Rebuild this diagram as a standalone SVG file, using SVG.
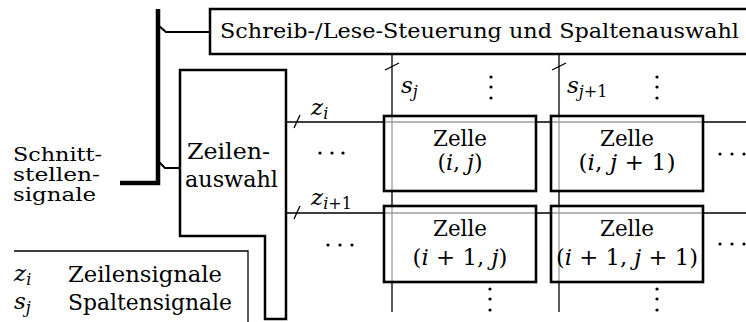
<svg xmlns="http://www.w3.org/2000/svg" width="746" height="322" viewBox="0 0 746 322" font-family="DejaVu Serif, Liberation Serif, serif">
<style>
text{fill:#000}
.t{font-size:23px}
.c{font-size:22px;text-anchor:middle}
.m{font-style:italic}
.sub{font-size:16px}
.thin{stroke:#000;stroke-width:1.3;fill:none}
.box{stroke:#000;stroke-width:2.5;fill:#fff}
.cell{stroke:#000;stroke-width:2.6;fill:#fff;fill-opacity:0.62}
.bus{stroke:#000;stroke-width:4.5;fill:none}
.br{stroke:#000;stroke-width:2.2;fill:none}
.sm{font-size:19px}
.hd{font-size:20.5px}
</style>
<g id="connectors">
  <path class="bus" d="M158,9 V183 H120"/>
  <path class="br" d="M159,26 L166,32 H210"/>
  <path class="br" d="M159,162 L165,168 H180"/>
  <path class="thin" d="M286,122 H746 M286,213 H746 M392,54 V312 M559,54 V312"/>
  <path class="thin" d="M294,128 L300,115 M294,219 L300,206 M385,70 L399,63 M552,70 L566,63"/>
</g>
<g id="steuerung">
  <rect class="box" x="210" y="9" width="545" height="45"/>
  <text class="hd" x="220" y="38" textLength="519" lengthAdjust="spacingAndGlyphs">Schreib-/Lese-Steuerung und Spaltenauswahl</text>
</g>
<g id="zeilenauswahl">
  <path class="box" d="M180,70 H286 V319 H265 V236 H180 Z"/>
  <text class="t" x="187" y="159" textLength="83" lengthAdjust="spacingAndGlyphs">Zeilen-</text>
  <text class="t" x="185" y="187" textLength="93" lengthAdjust="spacingAndGlyphs">auswahl</text>
</g>
<g id="schnittstelle">
  <text class="t sm" x="13" y="161" textLength="89" lengthAdjust="spacingAndGlyphs">Schnitt-</text>
  <text class="t sm" x="13" y="181" textLength="87" lengthAdjust="spacingAndGlyphs">stellen-</text>
  <text class="t sm" x="13" y="201" textLength="83" lengthAdjust="spacingAndGlyphs">signale</text>
</g>
<g id="labels">
  <text class="t m" x="311" y="115">z<tspan class="sub" dy="4">i</tspan></text>
  <text class="t m" x="311" y="205">z<tspan class="sub" dy="4">i</tspan><tspan class="sub" font-style="normal">+1</tspan></text>
  <text class="t m" x="401" y="93">s<tspan class="sub" dy="4">j</tspan></text>
  <text class="t m" x="567" y="93">s<tspan class="sub" dy="4">j</tspan><tspan class="sub" font-style="normal">+1</tspan></text>
</g>
<g id="dots" fill="#000">
  <circle cx="491" cy="77" r="1.6"/><circle cx="491" cy="87" r="1.6"/><circle cx="491" cy="98" r="1.6"/>
  <circle cx="657" cy="77" r="1.6"/><circle cx="657" cy="87" r="1.6"/><circle cx="657" cy="98" r="1.6"/>
  <circle cx="490" cy="289" r="1.6"/><circle cx="490" cy="299" r="1.6"/><circle cx="490" cy="310" r="1.6"/>
  <circle cx="657" cy="289" r="1.6"/><circle cx="657" cy="299" r="1.6"/><circle cx="657" cy="310" r="1.6"/>
  <circle cx="320" cy="153" r="1.6"/><circle cx="332" cy="153" r="1.6"/><circle cx="343" cy="153" r="1.6"/>
  <circle cx="328" cy="245" r="1.6"/><circle cx="340" cy="245" r="1.6"/><circle cx="352" cy="245" r="1.6"/>
  <circle cx="720" cy="154" r="1.6"/><circle cx="732" cy="154" r="1.6"/><circle cx="744" cy="154" r="1.6"/>
  <circle cx="720" cy="244" r="1.6"/><circle cx="732" cy="244" r="1.6"/><circle cx="744" cy="244" r="1.6"/>
</g>
<g id="cell-i-j">
  <rect class="cell" x="384" y="116" width="152" height="75"/>
  <text class="c" x="460" y="146" textLength="54" lengthAdjust="spacingAndGlyphs">Zelle</text>
  <text class="c" x="460" y="170">(<tspan class="m">i</tspan>, <tspan class="m">j</tspan>)</text>
</g>
<g id="cell-i-j1">
  <rect class="cell" x="551" y="116" width="152" height="75"/>
  <text class="c" x="627" y="146" textLength="54" lengthAdjust="spacingAndGlyphs">Zelle</text>
  <text class="c" x="627" y="170" textLength="97" lengthAdjust="spacingAndGlyphs">(<tspan class="m">i</tspan>, <tspan class="m">j</tspan> + 1)</text>
</g>
<g id="cell-i1-j">
  <rect class="cell" x="384" y="206" width="152" height="76"/>
  <text class="c" x="460" y="236" textLength="54" lengthAdjust="spacingAndGlyphs">Zelle</text>
  <text class="c" x="460" y="265" textLength="95" lengthAdjust="spacingAndGlyphs">(<tspan class="m">i</tspan> + 1, <tspan class="m">j</tspan>)</text>
</g>
<g id="cell-i1-j1">
  <rect class="cell" x="551" y="206" width="152" height="76"/>
  <text class="c" x="627" y="236" textLength="54" lengthAdjust="spacingAndGlyphs">Zelle</text>
  <text class="c" x="627" y="265" textLength="142" lengthAdjust="spacingAndGlyphs">(<tspan class="m">i</tspan> + 1, <tspan class="m">j</tspan> + 1)</text>
</g>
<g id="legend">
  <path class="thin" d="M14,251 H248 V322"/>
  <text class="t m" x="14" y="281">z<tspan class="sub" dy="4">i</tspan></text>
  <text class="t" x="68" y="282" textLength="154" lengthAdjust="spacingAndGlyphs">Zeilensignale</text>
  <text class="t m" x="14" y="309">s<tspan class="sub" dy="4">j</tspan></text>
  <text class="t" x="68" y="310" textLength="164" lengthAdjust="spacingAndGlyphs">Spaltensignale</text>
</g>
</svg>
